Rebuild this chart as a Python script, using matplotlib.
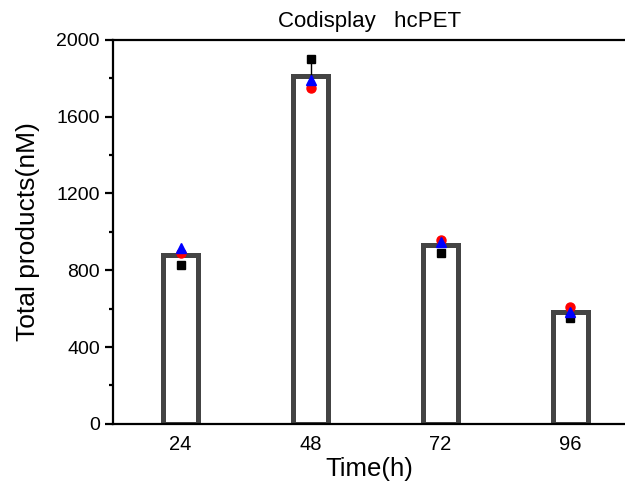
import matplotlib
matplotlib.use('Agg')
import matplotlib.pyplot as plt
import numpy as np

plt.rcParams['font.family'] = ['Liberation Sans', 'DejaVu Sans']

times = ['24', '48', '72', '96']
rep_black = [828, 1900, 890, 552]
rep_red = [890, 1750, 960, 610]
rep_blue = [915, 1790, 945, 580]

reps = np.array([rep_black, rep_red, rep_blue])
means = reps.mean(axis=0)
sds = reps.std(axis=0, ddof=1)
x = np.arange(len(times))

fig = plt.figure(figsize=(6.25, 4.86), dpi=100)
ax = fig.add_axes([0.181, 0.128, 0.819, 0.79])

ax.bar(x, means, width=0.27, color='white', edgecolor='#444444', linewidth=3.6, zorder=2)
ax.errorbar(x, means, yerr=[np.zeros_like(sds), sds], fmt='none', ecolor='black',
            elinewidth=1, capsize=0, zorder=3)
ax.plot(x, rep_black, 's', color='black', markersize=6, zorder=4)
ax.plot(x, rep_red, 'o', color='red', markersize=6.5, zorder=5)
ax.plot(x, rep_blue, '^', color='blue', markersize=7, zorder=6)

ax.set_xlim(-0.52, 3.42)
ax.set_ylim(0, 2000)
ax.set_yticks([0, 400, 800, 1200, 1600, 2000])
ax.set_yticks(np.arange(200, 2000, 400), minor=True)
ax.set_xticks(x)
ax.set_xticklabels(times)

ax.spines['right'].set_visible(False)
for s in ['left', 'top', 'bottom']:
    ax.spines[s].set_linewidth(1.6)
ax.tick_params(axis='y', which='major', direction='out', length=6, width=1.6, labelsize=14)
ax.tick_params(axis='y', which='minor', direction='out', length=3, width=1.6)
ax.tick_params(axis='x', length=0, labelsize=14.5, pad=8)

ax.set_xlabel('Time(h)', fontsize=18.5, labelpad=2)
ax.set_ylabel('Total products(nM)', fontsize=19, labelpad=12)
ax.set_title('Codisplay   hcPET', fontsize=16, pad=9)

plt.savefig('out.png', dpi=100)
